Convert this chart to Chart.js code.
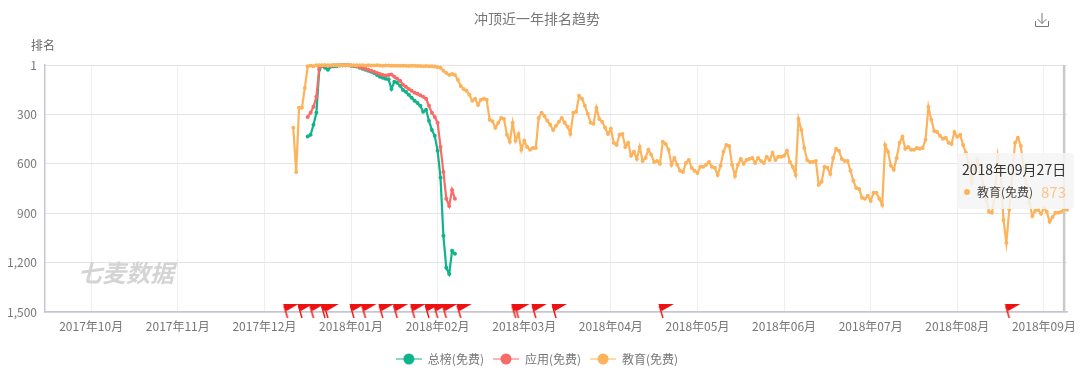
<!DOCTYPE html>
<html>
<head>
<meta charset="utf-8">
<script src="https://cdn.jsdelivr.net/npm/chart.js@4"></script>
<style>
  html, body { margin: 0; padding: 0; background: #fff; }
  #wrap { position: relative; width: 1080px; height: 378px; overflow: hidden; font-family: "Noto Sans CJK SC", sans-serif; }
  #rank-chart { position: absolute; left: 0; top: 0; }
  .note { position: absolute; white-space: nowrap; line-height: 1; }
  #y-name { left: 31px; top: 39px; font-size: 12px; color: #666; }
  #watermark { left: 78px; top: 260px; font-size: 24px; font-weight: 700; font-style: italic; color: #d4d4d4; }
  #tip { position: absolute; left: 957px; top: 153px; width: 117px; height: 56px; background: rgba(245,245,245,.86); border-radius: 4px; }
  #tip-title { left: 5px; top: 9px; font-size: 14px; color: #333; }
  #tip-dot { position: absolute; left: 7px; top: 36px; width: 6px; height: 6px; border-radius: 50%; background: #fcb35c; }
  #tip-name { left: 20px; top: 33px; font-size: 12px; color: #444; }
  #tip-value { left: 84px; top: 31px; font-size: 15px; color: #fbc68c; }
  #save-icon { position: absolute; left: 1034px; top: 12px; }
</style>
</head>
<body>
<div id="wrap">
  <canvas id="rank-chart" width="1080" height="378"></canvas>
  <div class="note" id="y-name">排名</div>
  <div class="note" id="watermark">七麦数据</div>
  <div id="tip">
    <div class="note" id="tip-title">2018年09月27日</div>
    <div id="tip-dot"></div>
    <div class="note" id="tip-name">教育(免费)</div>
    <div class="note" id="tip-value"></div>
  </div>
  <svg id="save-icon" width="16" height="16" fill="none" stroke="#777" stroke-width="1">
    <path d="M1.5 9v5.5h13V9M8 1v10.5M3.5 7L8 11.5L12.5 7"/>
  </svg>
</div>
<script>
const monthTicks = [16, 46, 76, 106, 136, 166, 196, 226, 256, 286, 316, 346];
const monthLabels = ['2017年10月', '2017年11月', '2017年12月', '2018年01月', '2018年02月', '2018年03月',
  '2018年04月', '2018年05月', '2018年06月', '2018年07月', '2018年08月', '2018年09月'];
const rankTicks = [1, 300, 600, 900, 1200, 1500];

const totalStart = 91;
const totalRanks = [435, 425, 364, 291, 30, 6, 18, 30, 12, 8, 8, 4, 2, 2, 3, 5, 8, 10, 18, 24, 30, 36, 42, 49,
  61, 73, 79, 85, 88, 146, 103, 109, 127, 152, 164, 182, 200, 218, 231, 249, 285, 273, 340, 395, 431, 522,
  686, 1038, 1232, 1269, 1129, 1147];

const appStart = 91;
const appRanks = [316, 291, 255, 194, 18, 6, 4, 6, 6, 3, 3, 2, 2, 2, 3, 4, 6, 9, 15, 18, 24, 30, 36, 42, 49,
  55, 61, 64, 61, 58, 73, 85, 97, 121, 133, 146, 158, 170, 176, 185, 194, 206, 249, 291, 316, 352, 498, 650,
  813, 856, 759, 813];

const eduStart = 86;
const eduRanks = [382, 650, 261, 261, 140, 8, 5, 8, 3,
  3, 2, 2, 3, 2, 2, 3, 3, 2, 2, 3, 3, 3, 2, 3, 3, 4, 3, 4, 4, 3, 4, 5, 4, 4, 5, 5, 6, 6, 5, 6, 7, 6, 6, 7, 7, 8, 7, 8, 9, 10,
  14, 18, 36, 49, 61, 55, 61, 91, 128, 146, 158, 182, 218, 206, 243, 212, 206, 212, 334,
  343, 382, 352, 322, 328, 425, 467, 352, 461, 419, 516, 461, 498, 516, 504, 504, 322, 291, 310, 340, 364, 395,
  370, 346, 322, 352, 376, 419, 291, 285, 188, 206, 249, 297, 352, 358, 261, 328, 346, 382, 419, 388, 473, 486,
  425, 419, 498, 473, 552, 528, 571, 498, 583, 565, 516, 546, 589, 583, 601, 467, 480, 516, 607, 565, 607,
  643, 650, 595, 577, 625, 643, 656, 619, 619, 607, 589, 619, 625, 668, 613, 528, 486, 492, 607, 674, 607, 571,
  601, 577, 571, 565, 595, 565, 583, 595, 558, 577, 534, 577, 558, 558, 552, 522, 589, 619, 668, 328, 395, 504,
  577, 589, 589, 583, 728, 710, 619, 625, 662, 565, 510, 522, 571, 583, 583, 643, 704, 747, 753, 807, 813, 795,
  826, 777, 777, 813,
  850, 486, 528, 613, 637, 565, 473, 437, 510, 498, 516, 516, 504, 510, 504, 455, 255, 334, 401, 407, 431, 449,
  443, 473, 480, 407, 437, 425, 486, 534, 607, 716, 637, 577, 650, 728, 819, 892, 898, 789, 552, 650, 941, 1080,
  880, 668, 473, 443, 492, 625, 747, 838, 917, 886, 880, 904, 868, 892, 953, 923, 898, 898, 892, 873, 880];

const flagDays = [84, 89, 93, 97, 98, 107, 111, 117, 122, 128, 133, 136, 139, 144, 163, 164, 170, 177, 214, 334];
const hoverDay = 353;

const green = '#10b48a';
const red = '#f96b66';
const orange = '#fcb35c';

const toPoints = (start, ranks) => ranks.map((rank, i) => ({ x: start + i, y: rank }));

// red pennant, centre of the canvas is the foot of the pole's axis position
const makeFlag = () => {
  const c = document.createElement('canvas');
  c.width = 30;
  c.height = 30;
  const ctx = c.getContext('2d');
  ctx.fillStyle = '#ee1111';
  ctx.strokeStyle = '#ee1111';
  ctx.beginPath();
  ctx.moveTo(10.5, 7);
  ctx.lineTo(26, 7);
  ctx.lineTo(14, 14);
  ctx.lineTo(12, 11);
  ctx.closePath();
  ctx.fill();
  ctx.lineWidth = 1.4;
  ctx.beginPath();
  ctx.moveTo(11.5, 9);
  ctx.lineTo(15, 21);
  ctx.stroke();
  return c;
};

const makeLegendMark = (color) => {
  const c = document.createElement('canvas');
  c.width = 26;
  c.height = 14;
  const ctx = c.getContext('2d');
  ctx.strokeStyle = color;
  ctx.fillStyle = color;
  ctx.beginPath();
  ctx.moveTo(0, 7);
  ctx.lineTo(26, 7);
  ctx.stroke();
  ctx.beginPath();
  ctx.arc(13, 7, 5.5, 0, Math.PI * 2);
  ctx.fill();
  return c;
};

const lineSet = (label, data, color, order) => ({
  label,
  data,
  order,
  borderColor: color,
  backgroundColor: color,
  borderWidth: 2.2,
  pointRadius: 2,
  pointBorderWidth: 0,
  tension: 0,
  clip: false,
  pointStyle: 'circle',
});

const hoverLine = {
  id: 'hoverLine',
  beforeDatasetsDraw(chart) {
    const { ctx, chartArea, scales } = chart;
    const x = scales.x.getPixelForValue(hoverDay);
    ctx.save();
    ctx.strokeStyle = '#c9c9c9';
    ctx.lineWidth = 2.5;
    ctx.beginPath();
    ctx.moveTo(x, chartArea.top);
    ctx.lineTo(x, chartArea.bottom);
    ctx.stroke();
    ctx.restore();
  },
};

Chart.defaults.font.family = '"Noto Sans CJK SC", sans-serif';
Chart.defaults.font.size = 12;

document.getElementById('tip-value').textContent = eduRanks[hoverDay - eduStart];

const legendMarks = [makeLegendMark(green), makeLegendMark(red), makeLegendMark(orange)];

new Chart(document.getElementById('rank-chart').getContext('2d'), {
  type: 'line',
  data: {
    datasets: [
      lineSet('总榜(免费)', toPoints(totalStart, totalRanks), green, 3),
      lineSet('应用(免费)', toPoints(appStart, appRanks), red, 2),
      lineSet('教育(免费)', toPoints(eduStart, eduRanks), orange, 1),
      {
        label: 'flags',
        data: flagDays.map((d) => ({ x: d, y: rankTicks[rankTicks.length - 1] })),
        showLine: false,
        order: 0,
        clip: false,
        pointStyle: makeFlag(),
      },
    ],
  },
  options: {
    responsive: false,
    animation: false,
    layout: { padding: { top: 0, right: 6, bottom: 3, left: 0 } },
    plugins: {
      tooltip: { enabled: false },
      title: {
        display: true,
        text: '冲顶近一年排名趋势',
        color: '#777',
        font: { size: 14, weight: 'normal' },
        padding: { top: 10, bottom: 38.2 },
      },
      legend: {
        position: 'bottom',
        onClick: null,
        labels: {
          color: '#777',
          padding: 9,
          usePointStyle: true,
          pointStyleWidth: 26,
          boxHeight: 12,
          filter: (item) => item.text !== 'flags',
          generateLabels: (chart) => chart.data.datasets.map((ds, i) => ({
            text: ds.label,
            fontColor: '#777',
            datasetIndex: i,
            pointStyle: legendMarks[i],
            lineWidth: 0,
          })),
        },
      },
    },
    scales: {
      x: {
        type: 'linear',
        min: 0,
        max: 354,
        afterFit: (s) => {
          s.height = 32;
          s.paddingLeft = 0;
          s.paddingRight = 0;
        },
        afterBuildTicks: (s) => { s.ticks = monthTicks.map((v) => ({ value: v })); },
        grid: { color: '#eeeef1', drawTicks: false },
        border: { color: '#c6c6d2', width: 1.5 },
        ticks: {
          color: '#777',
          padding: 7,
          autoSkip: false,
          maxRotation: 0,
          callback: (v, i) => monthLabels[i],
        },
      },
      y: {
        reverse: true,
        min: 1,
        max: 1500,
        afterFit: (s) => { s.width = 45; },
        afterBuildTicks: (s) => { s.ticks = rankTicks.map((v) => ({ value: v })); },
        grid: { color: '#e4e4e8', drawTicks: false },
        border: { color: '#c6c6d2', width: 1.5 },
        ticks: {
          color: '#777',
          padding: 8,
          callback: (v) => v.toLocaleString('en-US'),
        },
      },
      spacer: {
        position: 'right',
        afterFit: (s) => { s.width = 7; },
        grid: { display: false },
        border: { display: false },
        ticks: { display: false },
      },
    },
  },
  plugins: [hoverLine],
});
</script>
</body>
</html>
